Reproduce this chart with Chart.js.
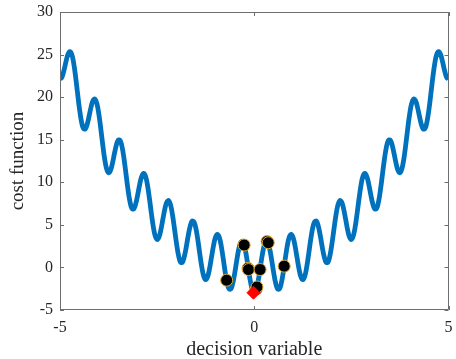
<!DOCTYPE html>
<html>
<head>
<meta charset="utf-8">
<script src="https://cdn.jsdelivr.net/npm/chart.js@4.4.1/dist/chart.umd.min.js"></script>
<style>
html,body{margin:0;padding:0;background:#fff;}
#wrap{width:456px;height:359px;position:relative;}
</style>
</head>
<body>
<div id="wrap"><canvas id="c" width="456" height="359"></canvas></div>
<script>
// ---- data ----
const curveX = [
-5,-4.95,-4.9,-4.85,-4.8,-4.75,-4.7,-4.65,-4.6,-4.55,
-4.5,-4.45,-4.4,-4.35,-4.3,-4.25,-4.2,-4.15,-4.1,-4.05,
-4,-3.95,-3.9,-3.85,-3.8,-3.75,-3.7,-3.65,-3.6,-3.55,
-3.5,-3.45,-3.4,-3.35,-3.3,-3.25,-3.2,-3.15,-3.1,-3.05,
-3,-2.95,-2.9,-2.85,-2.8,-2.75,-2.7,-2.65,-2.6,-2.55,
-2.5,-2.45,-2.4,-2.35,-2.3,-2.25,-2.2,-2.15,-2.1,-2.05,
-2,-1.95,-1.9,-1.85,-1.8,-1.75,-1.7,-1.65,-1.6,-1.55,
-1.5,-1.45,-1.4,-1.35,-1.3,-1.25,-1.2,-1.15,-1.1,-1.05,
-1,-0.95,-0.9,-0.85,-0.8,-0.75,-0.7,-0.65,-0.6,-0.55,
-0.5,-0.45,-0.4,-0.35,-0.3,-0.25,-0.2,-0.15,-0.1,-0.05,
0,
0.05,0.1,0.15,0.2,0.25,0.3,0.35,0.4,0.45,0.5,
0.55,0.6,0.65,0.7,0.75,0.8,0.85,0.9,0.95,1,
1.05,1.1,1.15,1.2,1.25,1.3,1.35,1.4,1.45,1.5,
1.55,1.6,1.65,1.7,1.75,1.8,1.85,1.9,1.95,2,
2.05,2.1,2.15,2.2,2.25,2.3,2.35,2.4,2.45,2.5,
2.55,2.6,2.65,2.7,2.75,2.8,2.85,2.9,2.95,3,
3.05,3.1,3.15,3.2,3.25,3.3,3.35,3.4,3.45,3.5,
3.55,3.6,3.65,3.7,3.75,3.8,3.85,3.9,3.95,4,
4.05,4.1,4.15,4.2,4.25,4.3,4.35,4.4,4.45,4.5,
4.55,4.6,4.65,4.7,4.75,4.8,4.85,4.9,4.95,5
];
const curveY = [
22.11,22.34,23.11,24.10,24.96,25.35,25.07,24.06,22.46,20.54,
18.67,17.20,16.36,16.26,16.82,17.80,18.84,19.59,19.77,19.23,
18.00,16.29,14.41,12.73,11.57,11.12,11.39,12.23,13.34,14.37,
14.96,14.90,14.10,12.70,10.93,9.16,7.74,6.93,6.87,7.48,
8.54,9.72,10.65,11.05,10.73,9.71,8.17,6.42,4.82,3.70,
3.28,3.58,4.49,5.71,6.89,7.68,7.84,7.27,6.05,4.44,
2.78,1.42,0.64,0.60,1.26,2.40,3.72,4.83,5.43,5.34,
4.53,3.17,1.55,0.04,-1.03,-1.43,-1.09,-0.13,1.20,2.53,
3.52,3.89,3.54,2.53,1.08,-0.48,-1.77,-2.51,-2.52,-1.82,
-0.60,0.83,2.12,2.93,3.06,2.47,1.29,-0.19,-1.61,-2.63,
-3.00,
-2.63,-1.61,-0.19,1.29,2.47,3.06,2.93,2.12,0.83,-0.60,
-1.82,-2.52,-2.51,-1.77,-0.48,1.08,2.53,3.54,3.89,3.52,
2.53,1.20,-0.13,-1.09,-1.43,-1.03,0.04,1.55,3.17,4.53,
5.34,5.43,4.83,3.72,2.40,1.26,0.60,0.64,1.42,2.78,
4.44,6.05,7.27,7.84,7.68,6.89,5.71,4.49,3.58,3.28,
3.70,4.82,6.42,8.17,9.71,10.73,11.05,10.65,9.72,8.54,
7.48,6.87,6.93,7.74,9.16,10.93,12.70,14.10,14.90,14.96,
14.37,13.34,12.23,11.39,11.12,11.57,12.73,14.41,16.29,18.00,
19.23,19.77,19.59,18.84,17.80,16.82,16.26,16.36,17.20,18.67,
20.54,22.46,24.06,25.07,25.35,24.96,24.10,23.11,22.34,22.11
];
// sample points (black circles)
const sampleX = [-0.71, -0.26, -0.16, -0.15, 0.15, 0.05, 0.07, 0.33, 0.36, 0.77];
const sampleY = [-1.50,  2.63, -0.10, -0.25, -0.25, -2.55, -2.30, 3.05, 2.90, 0.15];
// best point (red diamond)
const bestX = [-0.02];
const bestY = [-2.97];

const xTicks = [-5, 0, 5];
const yTicks = [-5, 0, 5, 10, 15, 20, 25, 30];
const xTitle = 'decision variable';
const yTitle = 'cost function';

// ---- build ----
const zip = (xs, ys) => xs.map((x, i) => ({x: x, y: ys[i]}));
const FONT = '"Liberation Serif", "Times New Roman", serif';
const AX = '#262626';

const frame = {
  id: 'frame',
  afterDraw(chart) {
    const ctx = chart.ctx, a = chart.chartArea;
    const xs = chart.scales.x, ys = chart.scales.y;
    ctx.save();
    ctx.strokeStyle = '#6e6e6e';
    ctx.lineWidth = 1;
    ctx.beginPath();
    ctx.rect(Math.round(a.left) + 0.5, Math.round(a.top) + 0.5,
             Math.round(a.right - a.left) - 1, Math.round(a.bottom - a.top) - 1);
    ctx.stroke();
    ctx.beginPath();
    const L = 4;
    xTicks.forEach(v => {
      const px = Math.round(xs.getPixelForValue(v)) + 0.5;
      ctx.moveTo(px, a.bottom); ctx.lineTo(px, a.bottom - L);
      ctx.moveTo(px, a.top); ctx.lineTo(px, a.top + L);
    });
    yTicks.forEach(v => {
      const py = Math.round(ys.getPixelForValue(v)) + 0.5;
      ctx.moveTo(a.left, py); ctx.lineTo(a.left + L, py);
      ctx.moveTo(a.right, py); ctx.lineTo(a.right - L, py);
    });
    ctx.stroke();
    ctx.restore();
  }
};

new Chart(document.getElementById('c'), {
  type: 'scatter',
  data: {
    datasets: [
      {
        type: 'line',
        data: zip(curveX, curveY),
        borderColor: '#0072BD',
        borderWidth: 4.8,
        pointRadius: 0,
        tension: 0.4,
        fill: false,
        order: 3
      },
      {
        data: zip(sampleX, sampleY),
        backgroundColor: '#000000',
        borderColor: '#E0A82E',
        borderWidth: 1,
        pointRadius: 6,
        order: 2
      },
      {
        data: zip(bestX, bestY),
        backgroundColor: '#FF0000',
        borderColor: '#FF0000',
        borderWidth: 1,
        pointStyle: 'rectRot',
        pointRadius: 6.5,
        order: 1
      }
    ]
  },
  options: {
    responsive: false,
    animation: false,
    devicePixelRatio: 1,
    layout: { padding: { left: 0, right: 2, top: 12, bottom: 0 } },
    plugins: { legend: { display: false }, tooltip: { enabled: false } },
    scales: {
      x: {
        type: 'linear', min: -5, max: 5,
        afterBuildTicks: s => { s.ticks = xTicks.map(v => ({value: v})); },
        afterFit: s => { s.height = 49; s.paddingLeft = 0; s.paddingRight = 0; },
        grid: { display: false, drawTicks: false },
        border: { display: false },
        ticks: { color: AX, font: { family: FONT, size: 16 }, padding: 8, maxRotation: 0,
                 callback: v => String(v) },
        title: { display: true, text: xTitle, color: AX, font: { family: FONT, size: 20 },
                 padding: { top: 0, bottom: -3 } }
      },
      y: {
        type: 'linear', min: -5, max: 30,
        afterBuildTicks: s => { s.ticks = yTicks.map(v => ({value: v})); },
        afterFit: s => { s.width = 60; s.paddingTop = 0; s.paddingBottom = 0; },
        grid: { display: false, drawTicks: false },
        border: { display: false },
        ticks: { color: AX, font: { family: FONT, size: 16 }, padding: 7,
                 callback: v => String(v) },
        title: { display: true, text: yTitle, color: AX, font: { family: FONT, size: 19 },
                 padding: { top: 7, bottom: 0 } }
      }
    }
  },
  plugins: [frame]
});
</script>
</body>
</html>
